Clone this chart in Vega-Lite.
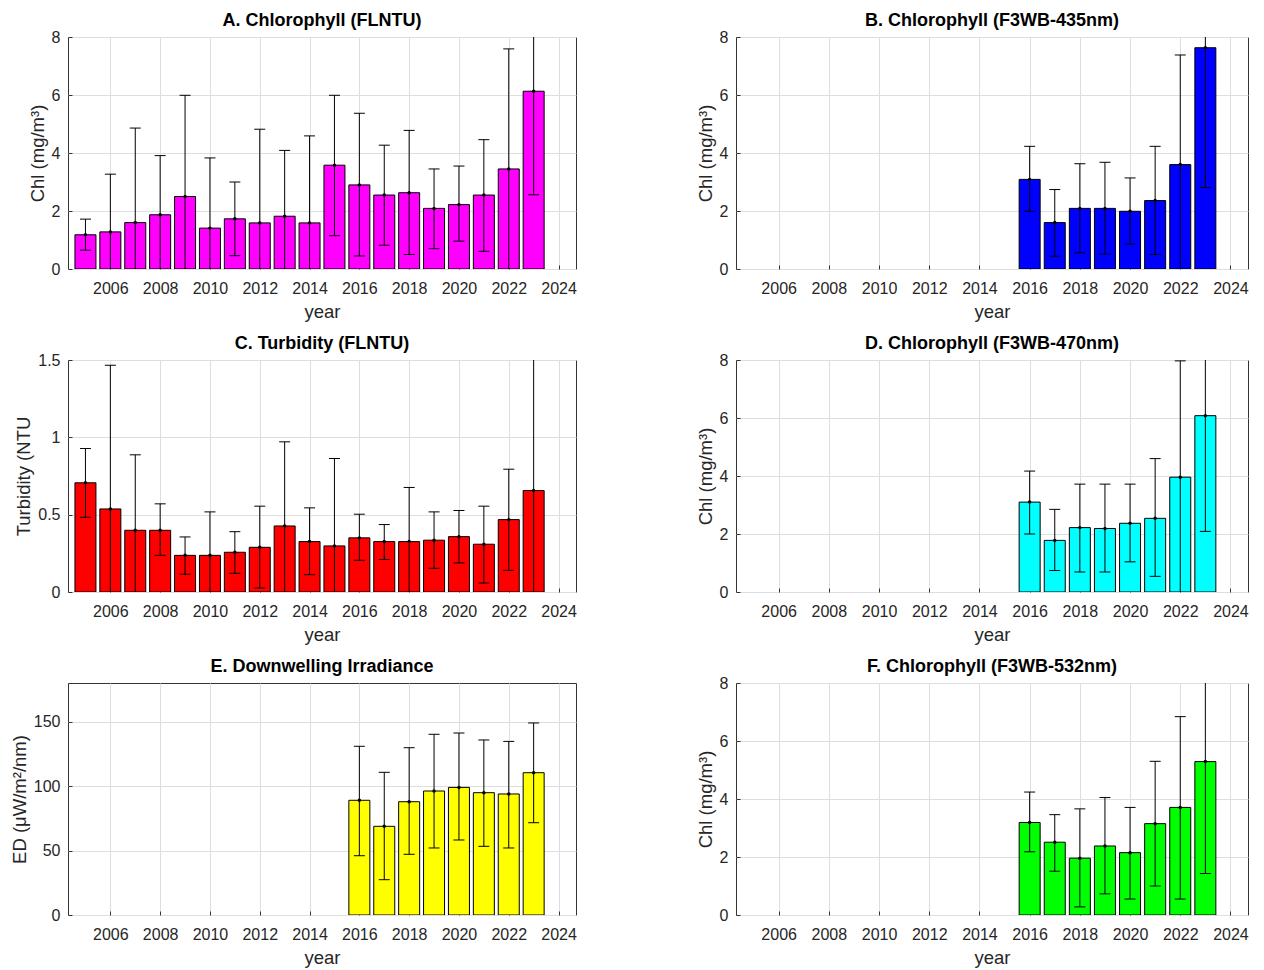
{
  "$schema": "https://vega.github.io/schema/vega-lite/v6.json",
  "background": "white",
  "padding": {"left": 9, "top": 11, "right": 5, "bottom": 3},
  "columns": 2,
  "spacing": {"row": 91, "column": 160},
  "bounds": "flush",
  "config": {
    "font": "Liberation Sans",
    "view": {"stroke": "#333333", "strokeWidth": 1},
    "axis": {
      "labelFont": "Liberation Sans", "labelFontSize": 16, "labelColor": "#262626",
      "titleFont": "Liberation Sans", "titleFontSize": 18.5, "titleFontWeight": "normal", "titleColor": "#262626",
      "domain": false, "ticks": true, "tickSize": -4, "tickColor": "#333333", "tickWidth": 1,
      "grid": true, "gridColor": "#dedede", "gridWidth": 1,
      "labelPadding": 12
    },
    "axisX": {"labelPadding": 15, "titlePadding": 6},
    "axisY": {"titlePadding": 4},
    "title": {"font": "Liberation Sans", "fontSize": 18, "fontWeight": "bold", "color": "#000000", "offset": -1, "frame": "group"}
  },
  "datasets": {
    "A": [
      {"year": 2005, "mean": 1.18, "lo": 0.65, "hi": 1.72},
      {"year": 2006, "mean": 1.28, "lo": -0.71, "hi": 3.27},
      {"year": 2007, "mean": 1.60, "lo": -1.66, "hi": 4.86},
      {"year": 2008, "mean": 1.87, "lo": -0.17, "hi": 3.91},
      {"year": 2009, "mean": 2.50, "lo": -0.99, "hi": 5.99},
      {"year": 2010, "mean": 1.41, "lo": -1.01, "hi": 3.83},
      {"year": 2011, "mean": 1.73, "lo": 0.46, "hi": 3.00},
      {"year": 2012, "mean": 1.59, "lo": -1.64, "hi": 4.82},
      {"year": 2013, "mean": 1.82, "lo": -0.45, "hi": 4.09},
      {"year": 2014, "mean": 1.59, "lo": -1.41, "hi": 4.59},
      {"year": 2015, "mean": 3.58, "lo": 1.15, "hi": 5.99},
      {"year": 2016, "mean": 2.90, "lo": 0.45, "hi": 5.37},
      {"year": 2017, "mean": 2.55, "lo": 0.82, "hi": 4.27},
      {"year": 2018, "mean": 2.63, "lo": 0.50, "hi": 4.78},
      {"year": 2019, "mean": 2.09, "lo": 0.70, "hi": 3.45},
      {"year": 2020, "mean": 2.22, "lo": 0.96, "hi": 3.55},
      {"year": 2021, "mean": 2.55, "lo": 0.61, "hi": 4.46},
      {"year": 2022, "mean": 3.45, "lo": -0.69, "hi": 7.59},
      {"year": 2023, "mean": 6.13, "lo": 2.56, "hi": 9.70}
    ],
    "B": [
      {"year": 2016, "mean": 3.09, "lo": 1.99, "hi": 4.23},
      {"year": 2017, "mean": 1.60, "lo": 0.44, "hi": 2.74},
      {"year": 2018, "mean": 2.09, "lo": 0.56, "hi": 3.63},
      {"year": 2019, "mean": 2.09, "lo": 0.52, "hi": 3.68},
      {"year": 2020, "mean": 1.99, "lo": 0.86, "hi": 3.14},
      {"year": 2021, "mean": 2.36, "lo": 0.50, "hi": 4.23},
      {"year": 2022, "mean": 3.60, "lo": -0.18, "hi": 7.38},
      {"year": 2023, "mean": 7.63, "lo": 2.81, "hi": 12.45}
    ],
    "C": [
      {"year": 2005, "mean": 0.706, "lo": 0.483, "hi": 0.928},
      {"year": 2006, "mean": 0.537, "lo": -0.39, "hi": 1.466},
      {"year": 2007, "mean": 0.399, "lo": -0.09, "hi": 0.887},
      {"year": 2008, "mean": 0.399, "lo": 0.237, "hi": 0.570},
      {"year": 2009, "mean": 0.237, "lo": 0.115, "hi": 0.356},
      {"year": 2010, "mean": 0.237, "lo": -0.044, "hi": 0.518},
      {"year": 2011, "mean": 0.257, "lo": 0.121, "hi": 0.390},
      {"year": 2012, "mean": 0.289, "lo": 0.026, "hi": 0.555},
      {"year": 2013, "mean": 0.427, "lo": -0.117, "hi": 0.971},
      {"year": 2014, "mean": 0.326, "lo": 0.112, "hi": 0.544},
      {"year": 2015, "mean": 0.298, "lo": -0.267, "hi": 0.863},
      {"year": 2016, "mean": 0.350, "lo": 0.205, "hi": 0.503},
      {"year": 2017, "mean": 0.326, "lo": 0.210, "hi": 0.436},
      {"year": 2018, "mean": 0.326, "lo": -0.024, "hi": 0.676},
      {"year": 2019, "mean": 0.335, "lo": 0.153, "hi": 0.518},
      {"year": 2020, "mean": 0.358, "lo": 0.188, "hi": 0.527},
      {"year": 2021, "mean": 0.309, "lo": 0.058, "hi": 0.555},
      {"year": 2022, "mean": 0.468, "lo": 0.140, "hi": 0.794},
      {"year": 2023, "mean": 0.656, "lo": -0.44, "hi": 1.75}
    ],
    "D": [
      {"year": 2016, "mean": 3.10, "lo": 2.00, "hi": 4.17},
      {"year": 2017, "mean": 1.78, "lo": 0.74, "hi": 2.85},
      {"year": 2018, "mean": 2.22, "lo": 0.69, "hi": 3.72},
      {"year": 2019, "mean": 2.19, "lo": 0.69, "hi": 3.72},
      {"year": 2020, "mean": 2.37, "lo": 1.04, "hi": 3.72},
      {"year": 2021, "mean": 2.54, "lo": 0.54, "hi": 4.60},
      {"year": 2022, "mean": 3.96, "lo": -0.05, "hi": 7.97},
      {"year": 2023, "mean": 6.08, "lo": 2.09, "hi": 10.05}
    ],
    "E": [
      {"year": 2016, "mean": 89.0, "lo": 46.0, "hi": 130.9},
      {"year": 2017, "mean": 68.8, "lo": 27.4, "hi": 110.7},
      {"year": 2018, "mean": 87.9, "lo": 47.1, "hi": 129.8},
      {"year": 2019, "mean": 96.2, "lo": 52.0, "hi": 140.2},
      {"year": 2020, "mean": 99.0, "lo": 58.2, "hi": 141.2},
      {"year": 2021, "mean": 94.9, "lo": 53.3, "hi": 135.8},
      {"year": 2022, "mean": 93.9, "lo": 52.0, "hi": 134.7},
      {"year": 2023, "mean": 110.4, "lo": 71.6, "hi": 149.0}
    ],
    "F": [
      {"year": 2016, "mean": 3.19, "lo": 2.18, "hi": 4.24},
      {"year": 2017, "mean": 2.51, "lo": 1.51, "hi": 3.46},
      {"year": 2018, "mean": 1.96, "lo": 0.28, "hi": 3.66},
      {"year": 2019, "mean": 2.38, "lo": 0.73, "hi": 4.05},
      {"year": 2020, "mean": 2.15, "lo": 0.55, "hi": 3.71},
      {"year": 2021, "mean": 3.15, "lo": 1.00, "hi": 5.30},
      {"year": 2022, "mean": 3.71, "lo": 0.55, "hi": 6.84},
      {"year": 2023, "mean": 5.29, "lo": 1.43, "hi": 9.17}
    ]
  },
  "concat": [
    {
      "title": "A. Chlorophyll (FLNTU)",
      "width": 508, "height": 232,
      "data": {"name": "A"},
      "encoding": {
        "x": {"field": "year", "type": "quantitative", "scale": {"domain": [2004.5, 2024.5], "nice": false, "zero": false},
              "axis": {"values": [2006, 2008, 2010, 2012, 2014, 2016, 2018, 2020, 2022, 2024], "format": "d", "title": "year"}}
      },
      "layer": [
        {"mark": {"type": "bar", "width": 21, "fill": "#ff00ff", "stroke": "#000000", "strokeWidth": 1, "clip": true},
         "encoding": {"y": {"field": "mean", "type": "quantitative", "scale": {"domain": [0, 8], "nice": false}, "axis": {"values": [0, 2, 4, 6, 8], "title": "Chl (mg/m³)"}}}},
        {"mark": {"type": "rule", "color": "#000000", "strokeWidth": 1, "clip": true},
         "encoding": {"y": {"field": "lo", "type": "quantitative"}, "y2": {"field": "hi"}}},
        {"mark": {"type": "tick", "orient": "horizontal", "size": 11, "thickness": 1, "color": "#000000", "opacity": 1, "clip": true},
         "encoding": {"y": {"field": "lo", "type": "quantitative"}}},
        {"mark": {"type": "tick", "orient": "horizontal", "size": 11, "thickness": 1, "color": "#000000", "opacity": 1, "clip": true},
         "encoding": {"y": {"field": "hi", "type": "quantitative"}}},
        {"mark": {"type": "point", "filled": true, "size": 12, "color": "#000000", "opacity": 1, "clip": true},
         "encoding": {"y": {"field": "mean", "type": "quantitative"}}}
      ]
    },
    {
      "title": "B. Chlorophyll (F3WB-435nm)",
      "width": 512, "height": 232,
      "data": {"name": "B"},
      "encoding": {
        "x": {"field": "year", "type": "quantitative", "scale": {"domain": [2004.5, 2024.5], "nice": false, "zero": false},
              "axis": {"values": [2006, 2008, 2010, 2012, 2014, 2016, 2018, 2020, 2022, 2024], "format": "d", "title": "year"}}
      },
      "layer": [
        {"mark": {"type": "bar", "width": 21, "fill": "#0000ff", "stroke": "#000000", "strokeWidth": 1, "clip": true},
         "encoding": {"y": {"field": "mean", "type": "quantitative", "scale": {"domain": [0, 8], "nice": false}, "axis": {"values": [0, 2, 4, 6, 8], "title": "Chl (mg/m³)"}}}},
        {"mark": {"type": "rule", "color": "#000000", "strokeWidth": 1, "clip": true},
         "encoding": {"y": {"field": "lo", "type": "quantitative"}, "y2": {"field": "hi"}}},
        {"mark": {"type": "tick", "orient": "horizontal", "size": 11, "thickness": 1, "color": "#000000", "opacity": 1, "clip": true},
         "encoding": {"y": {"field": "lo", "type": "quantitative"}}},
        {"mark": {"type": "tick", "orient": "horizontal", "size": 11, "thickness": 1, "color": "#000000", "opacity": 1, "clip": true},
         "encoding": {"y": {"field": "hi", "type": "quantitative"}}},
        {"mark": {"type": "point", "filled": true, "size": 12, "color": "#000000", "opacity": 1, "clip": true},
         "encoding": {"y": {"field": "mean", "type": "quantitative"}}}
      ]
    },
    {
      "title": "C. Turbidity (FLNTU)",
      "width": 508, "height": 232,
      "data": {"name": "C"},
      "encoding": {
        "x": {"field": "year", "type": "quantitative", "scale": {"domain": [2004.5, 2024.5], "nice": false, "zero": false},
              "axis": {"values": [2006, 2008, 2010, 2012, 2014, 2016, 2018, 2020, 2022, 2024], "format": "d", "title": "year"}}
      },
      "layer": [
        {"mark": {"type": "bar", "width": 21, "fill": "#ff0000", "stroke": "#000000", "strokeWidth": 1, "clip": true},
         "encoding": {"y": {"field": "mean", "type": "quantitative", "scale": {"domain": [0, 1.5], "nice": false}, "axis": {"values": [0, 0.5, 1, 1.5], "format": "~g", "title": "Turbidity (NTU"}}}},
        {"mark": {"type": "rule", "color": "#000000", "strokeWidth": 1, "clip": true},
         "encoding": {"y": {"field": "lo", "type": "quantitative"}, "y2": {"field": "hi"}}},
        {"mark": {"type": "tick", "orient": "horizontal", "size": 11, "thickness": 1, "color": "#000000", "opacity": 1, "clip": true},
         "encoding": {"y": {"field": "lo", "type": "quantitative"}}},
        {"mark": {"type": "tick", "orient": "horizontal", "size": 11, "thickness": 1, "color": "#000000", "opacity": 1, "clip": true},
         "encoding": {"y": {"field": "hi", "type": "quantitative"}}},
        {"mark": {"type": "point", "filled": true, "size": 12, "color": "#000000", "opacity": 1, "clip": true},
         "encoding": {"y": {"field": "mean", "type": "quantitative"}}}
      ]
    },
    {
      "title": "D. Chlorophyll (F3WB-470nm)",
      "width": 512, "height": 232,
      "data": {"name": "D"},
      "encoding": {
        "x": {"field": "year", "type": "quantitative", "scale": {"domain": [2004.5, 2024.5], "nice": false, "zero": false},
              "axis": {"values": [2006, 2008, 2010, 2012, 2014, 2016, 2018, 2020, 2022, 2024], "format": "d", "title": "year"}}
      },
      "layer": [
        {"mark": {"type": "bar", "width": 21, "fill": "#00ffff", "stroke": "#000000", "strokeWidth": 1, "clip": true},
         "encoding": {"y": {"field": "mean", "type": "quantitative", "scale": {"domain": [0, 8], "nice": false}, "axis": {"values": [0, 2, 4, 6, 8], "title": "Chl (mg/m³)"}}}},
        {"mark": {"type": "rule", "color": "#000000", "strokeWidth": 1, "clip": true},
         "encoding": {"y": {"field": "lo", "type": "quantitative"}, "y2": {"field": "hi"}}},
        {"mark": {"type": "tick", "orient": "horizontal", "size": 11, "thickness": 1, "color": "#000000", "opacity": 1, "clip": true},
         "encoding": {"y": {"field": "lo", "type": "quantitative"}}},
        {"mark": {"type": "tick", "orient": "horizontal", "size": 11, "thickness": 1, "color": "#000000", "opacity": 1, "clip": true},
         "encoding": {"y": {"field": "hi", "type": "quantitative"}}},
        {"mark": {"type": "point", "filled": true, "size": 12, "color": "#000000", "opacity": 1, "clip": true},
         "encoding": {"y": {"field": "mean", "type": "quantitative"}}}
      ]
    },
    {
      "title": {"text": "E. Downwelling Irradiance", "offset": 7},
      "width": 508, "height": 232,
      "data": {"name": "E"},
      "encoding": {
        "x": {"field": "year", "type": "quantitative", "scale": {"domain": [2004.5, 2024.5], "nice": false, "zero": false},
              "axis": {"values": [2006, 2008, 2010, 2012, 2014, 2016, 2018, 2020, 2022, 2024], "format": "d", "title": "year"}}
      },
      "layer": [
        {"mark": {"type": "bar", "width": 21, "fill": "#ffff00", "stroke": "#000000", "strokeWidth": 1, "clip": true},
         "encoding": {"y": {"field": "mean", "type": "quantitative", "scale": {"domain": [0, 180], "nice": false}, "axis": {"values": [0, 50, 100, 150], "title": "ED (μW/m²/nm)"}}}},
        {"mark": {"type": "rule", "color": "#000000", "strokeWidth": 1, "clip": true},
         "encoding": {"y": {"field": "lo", "type": "quantitative"}, "y2": {"field": "hi"}}},
        {"mark": {"type": "tick", "orient": "horizontal", "size": 11, "thickness": 1, "color": "#000000", "opacity": 1, "clip": true},
         "encoding": {"y": {"field": "lo", "type": "quantitative"}}},
        {"mark": {"type": "tick", "orient": "horizontal", "size": 11, "thickness": 1, "color": "#000000", "opacity": 1, "clip": true},
         "encoding": {"y": {"field": "hi", "type": "quantitative"}}},
        {"mark": {"type": "point", "filled": true, "size": 12, "color": "#000000", "opacity": 1, "clip": true},
         "encoding": {"y": {"field": "mean", "type": "quantitative"}}}
      ]
    },
    {
      "title": "F. Chlorophyll (F3WB-532nm)",
      "width": 512, "height": 232,
      "data": {"name": "F"},
      "encoding": {
        "x": {"field": "year", "type": "quantitative", "scale": {"domain": [2004.5, 2024.5], "nice": false, "zero": false},
              "axis": {"values": [2006, 2008, 2010, 2012, 2014, 2016, 2018, 2020, 2022, 2024], "format": "d", "title": "year"}}
      },
      "layer": [
        {"mark": {"type": "bar", "width": 21, "fill": "#00ff00", "stroke": "#000000", "strokeWidth": 1, "clip": true},
         "encoding": {"y": {"field": "mean", "type": "quantitative", "scale": {"domain": [0, 8], "nice": false}, "axis": {"values": [0, 2, 4, 6, 8], "title": "Chl (mg/m³)"}}}},
        {"mark": {"type": "rule", "color": "#000000", "strokeWidth": 1, "clip": true},
         "encoding": {"y": {"field": "lo", "type": "quantitative"}, "y2": {"field": "hi"}}},
        {"mark": {"type": "tick", "orient": "horizontal", "size": 11, "thickness": 1, "color": "#000000", "opacity": 1, "clip": true},
         "encoding": {"y": {"field": "lo", "type": "quantitative"}}},
        {"mark": {"type": "tick", "orient": "horizontal", "size": 11, "thickness": 1, "color": "#000000", "opacity": 1, "clip": true},
         "encoding": {"y": {"field": "hi", "type": "quantitative"}}},
        {"mark": {"type": "point", "filled": true, "size": 12, "color": "#000000", "opacity": 1, "clip": true},
         "encoding": {"y": {"field": "mean", "type": "quantitative"}}}
      ]
    }
  ]
}
